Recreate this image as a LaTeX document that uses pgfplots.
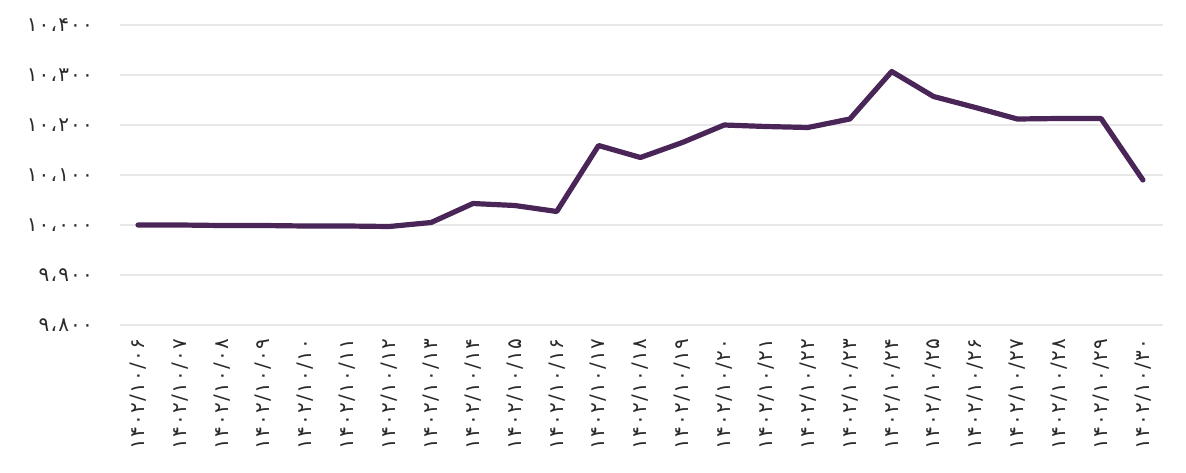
\documentclass[border=0pt]{standalone}
\usepackage{fontspec}
\usepackage{pgfplots}
\pgfplotsset{compat=1.18}
\newfontfamily\fa[LetterSpace=6]{DejaVu Sans}
\definecolor{lineP}{HTML}{4A2558}
\definecolor{txt}{HTML}{2A2A2A}
\begin{document}
\begin{tikzpicture}
\begin{axis}[
  scale only axis, width=521.5pt, height=150pt,
  xmin=-0.43, xmax=24.48, ymin=9800, ymax=10400,
  scaled y ticks=false,
  axis line style={draw=none},
  major tick length=0pt,
  ytick={9800,9900,10000,10100,10200,10300,10400},
  yticklabels={۹،۸۰۰,۹،۹۰۰,۱۰،۰۰۰,۱۰،۱۰۰,۱۰،۲۰۰,۱۰،۳۰۰,۱۰،۴۰۰},
  ymajorgrids,
  grid style={color=black!9, line width=0.75pt},
  xtick={0,1,...,24},
  xticklabels={۱۴۰۲/۱۰/۰۶,۱۴۰۲/۱۰/۰۷,۱۴۰۲/۱۰/۰۸,۱۴۰۲/۱۰/۰۹,۱۴۰۲/۱۰/۱۰,۱۴۰۲/۱۰/۱۱,۱۴۰۲/۱۰/۱۲,۱۴۰۲/۱۰/۱۳,۱۴۰۲/۱۰/۱۴,۱۴۰۲/۱۰/۱۵,۱۴۰۲/۱۰/۱۶,۱۴۰۲/۱۰/۱۷,۱۴۰۲/۱۰/۱۸,۱۴۰۲/۱۰/۱۹,۱۴۰۲/۱۰/۲۰,۱۴۰۲/۱۰/۲۱,۱۴۰۲/۱۰/۲۲,۱۴۰۲/۱۰/۲۳,۱۴۰۲/۱۰/۲۴,۱۴۰۲/۱۰/۲۵,۱۴۰۲/۱۰/۲۶,۱۴۰۲/۱۰/۲۷,۱۴۰۲/۱۰/۲۸,۱۴۰۲/۱۰/۲۹,۱۴۰۲/۱۰/۳۰},
  xticklabel style={rotate=90, anchor=east, font=\fa\fontsize{10}{11}\selectfont, text=txt},
  yticklabel style={font=\fa\fontsize{10}{11}\selectfont, text=txt},
  xticklabel shift=3.5pt,
  yticklabel shift=10pt,
  clip=false,
]
\addplot[lineP, line width=2.6pt, line join=round, line cap=round] coordinates {
(0,10000) (1,10000) (2,9999) (3,9999) (4,9998) (5,9998) (6,9997) (7,10005)
(8,10043) (9,10039) (10,10027) (11,10159) (12,10135) (13,10165) (14,10200)
(15,10197) (16,10195) (17,10212) (18,10307) (19,10257) (20,10235) (21,10212)
(22,10213) (23,10213) (24,10090)
};
\end{axis}
\path (current axis.south west) ++(-60pt,-73.5pt) coordinate (bl);
\path (current axis.north east) ++(11.5pt,12.5pt) coordinate (tr);
\path (bl) rectangle (tr);
\end{tikzpicture}
\end{document}
